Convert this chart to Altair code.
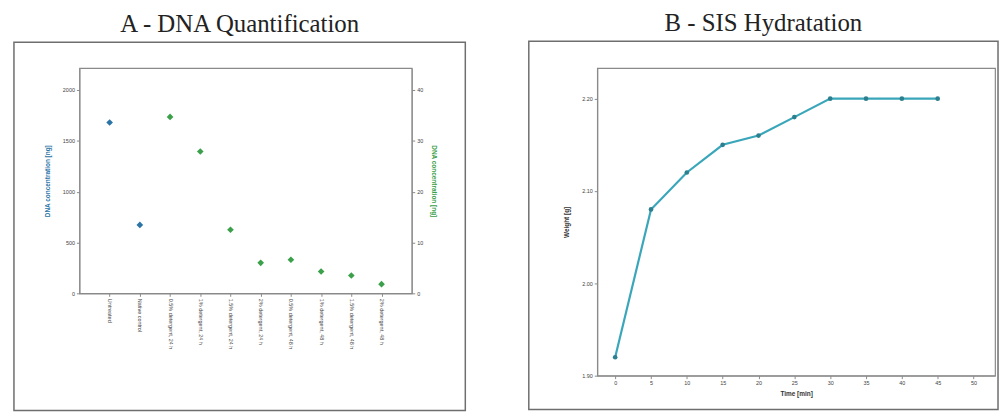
import altair as alt
import pandas as pd

# ---- Panel A data ----
categories = [
    "Untreated", "Native control",
    "0.5% detergent, 24 h", "1% detergent, 24 h", "1.5% detergent, 24 h", "2% detergent, 24 h",
    "0.5% detergent, 48 h", "1% detergent, 48 h", "1.5% detergent, 48 h", "2% detergent, 48 h",
]
left_categories = ["Untreated", "Native control"]
left_values = [1680, 673]
right_categories = categories[2:]
right_values = [34.7, 27.9, 12.5, 6.0, 6.6, 4.3, 3.5, 1.8]

# ---- Panel B data ----
time_min = [0, 5, 10, 15, 20, 25, 30, 35, 40, 45]
weight_g = [1.92, 2.08, 2.12, 2.15, 2.16, 2.18, 2.20, 2.20, 2.20, 2.20]

left_df = pd.DataFrame({"cat": left_categories, "val": left_values})
right_df = pd.DataFrame({"cat": right_categories, "val": right_values})
b_df = pd.DataFrame({"t": time_min, "w": weight_g})
one = pd.DataFrame({"k": [0]})

FONT = "Liberation Sans"
BLUE = "#2a74a6"
GREEN = "#3aa04a"
TEAL_LINE = "#3aa6ba"
TEAL_PT = "#2b7f8e"
AXCOL = "#8a8a8a"

def frame(x1, x2, y1, y2):
    return alt.Chart(one).mark_rect(fill=None, stroke="#6e6e6e", strokeWidth=1.5).encode(
        x=alt.value(x1), x2=alt.value(x2), y=alt.value(y1), y2=alt.value(y2)
    )

common_axis = dict(
    labelFont=FONT, titleFont=FONT, labelFontSize=5.5, titleFontSize=6.5,
    domainColor=AXCOL, tickColor=AXCOL, tickSize=3, grid=False, labelColor="#444",
)

xA = alt.X("cat:N", scale=alt.Scale(type="point", domain=categories, padding=1.0),
           axis=alt.Axis(title=None, labelAngle=90, labelLimit=200, **common_axis))

blue = alt.Chart(left_df).mark_point(shape="diamond", filled=True, size=45, color=BLUE, opacity=1).encode(
    x=xA,
    y=alt.Y("val:Q", scale=alt.Scale(domain=[0, 2215], nice=False),
            axis=alt.Axis(orient="left", title="DNA concentration [ng]", values=[0, 500, 1000, 1500, 2000],
                          format="d", titleColor=BLUE, titlePadding=12, **common_axis)),
)
green = alt.Chart(right_df).mark_point(shape="diamond", filled=True, size=45, color=GREEN, opacity=1).encode(
    x=xA,
    y=alt.Y("val:Q", scale=alt.Scale(domain=[0, 44.3], nice=False),
            axis=alt.Axis(orient="right", title="DNA concentration [ng]", values=[0, 10, 20, 30, 40],
                          format="d", titleColor=GREEN, titlePadding=8, **common_axis)),
)

panelA = alt.layer(frame(-66, 389, -26, 345), blue, green).resolve_scale(y="independent").properties(
    width=335, height=227, title=alt.TitleParams("A - DNA Quantification", frame="bounds")
)

xB = alt.X("t:Q", scale=alt.Scale(domain=[-2.5, 53], nice=False, zero=False),
           axis=alt.Axis(title="Time [min]", values=list(range(0, 55, 5)), titleFontWeight="bold",
                         titleColor="#333", titlePadding=4, **common_axis))
yB = alt.Y("w:Q", scale=alt.Scale(domain=[1.90, 2.233], nice=False, zero=False),
           axis=alt.Axis(title="Weight [g]", values=[1.9, 2.0, 2.1, 2.2], format=".2f", titleFontWeight="bold",
                         titleColor="#333", titlePadding=12, **common_axis))

lineB = alt.Chart(b_df).mark_line(color=TEAL_LINE, strokeWidth=2.2).encode(x=xB, y=yB)
ptsB = alt.Chart(b_df).mark_point(filled=True, shape="circle", size=22, color=TEAL_PT, opacity=1).encode(x=xB, y=yB)

panelB = alt.layer(frame(-69, 404, -27, 344), lineB, ptsB).properties(
    width=401, height=310, title=alt.TitleParams("B - SIS Hydratation", frame="bounds")
)

chart = alt.hconcat(panelA, panelB, spacing=60).properties(
    padding={"left": 4, "top": 0, "right": 0, "bottom": 0}
).configure_view(stroke=AXCOL, strokeWidth=1.2).configure_title(
    font="Liberation Serif", fontSize=25, fontWeight="normal", color="#222", anchor="middle", offset=5
)

chart.save("out.html", embed_options={"renderer": "svg", "actions": False})
